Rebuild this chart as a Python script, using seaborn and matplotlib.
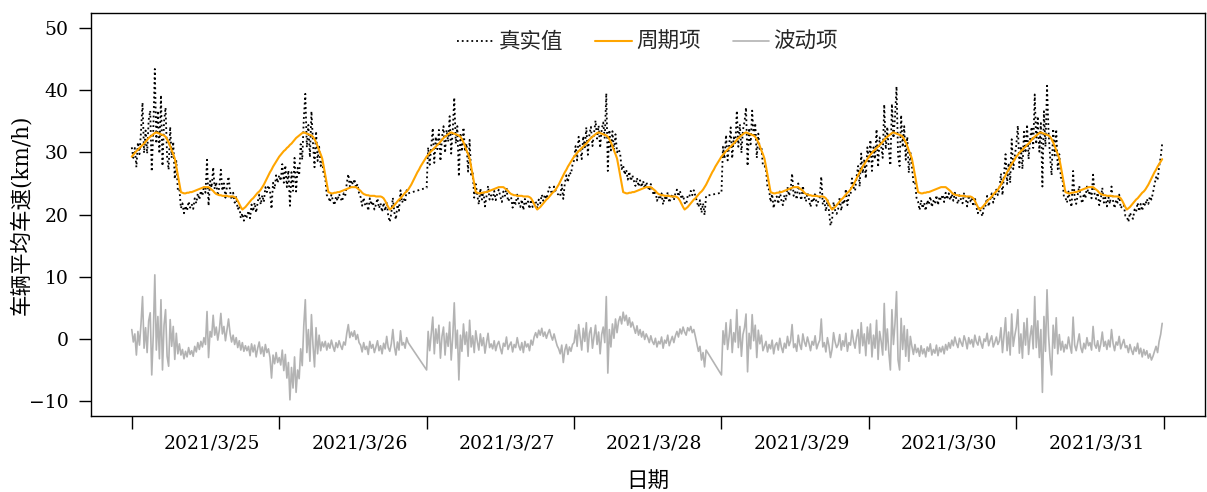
import numpy as np
import pandas as pd
import seaborn as sns
import matplotlib.pyplot as plt

# 日期标签 (每天一个)
days = ["2021/3/25", "2021/3/26", "2021/3/27", "2021/3/28",
        "2021/3/29", "2021/3/30", "2021/3/31"]

# 周期项: 一天内每 15 分钟的数值 (每行 3 小时)
periodic_profile = [
    29.3, 29.6, 29.9, 30.2, 30.4, 30.7, 30.9, 31.2, 31.4, 31.7, 32.0, 32.3,
    32.5, 32.7, 32.9, 33.1, 33.2, 33.1, 33.0, 32.9, 32.8, 32.7, 32.5, 32.1,
    31.6, 31.0, 30.3, 29.7, 29.0, 27.7, 26.3, 24.9, 23.6, 23.5, 23.4, 23.4,
    23.5, 23.5, 23.6, 23.6, 23.7, 23.8, 23.9, 24.0, 24.1, 24.2, 24.3, 24.4,
    24.4, 24.4, 24.4, 24.2, 24.0, 23.8, 23.5, 23.3, 23.2, 23.1, 23.1, 23.0,
    23.0, 23.0, 23.0, 22.9, 22.9, 22.9, 22.9, 22.8, 22.6, 22.2, 21.7, 21.2,
    20.8, 21.0, 21.2, 21.5, 21.8, 22.1, 22.4, 22.6, 22.9, 23.2, 23.5, 23.7,
    24.0, 24.4, 24.8, 25.3, 25.8, 26.3, 26.8, 27.2, 27.7, 28.1, 28.5, 28.9,
]

# 波动项: 每天每 15 分钟 (None = 缺测)
wave_0325 = [
    1.5, -0.5, 0.8, -2.6, 1.2, -1.0, 2.4, 6.8, -1.5, 1.8, -2.2, 2.9,
    4.2, -5.8, 0.6, 10.3, -1.8, 3.6, -3.2, 6.3, -5.0, 2.2, 4.7, -2.8,
    -4.4, 3.1, -1.2, 2.0, -3.3, 0.9, -2.4, -0.8, -2.6, -1.7, -3.2, -2.0,
    -2.9, -1.4, -2.5, -1.9, -2.8, -1.2, -2.1, -0.6, -1.7, -0.4, -1.3, 0.2,
    -0.9, 4.4, -3.0, 1.2, 0.3, 3.8, 0.6, 1.9, -0.2, 1.4, 4.1, 0.8,
    2.0, -0.3, 1.5, 3.2, 0.9, -0.5, 0.6, -0.9, 0.2, -1.4, -0.3, -1.8,
    -0.6, -2.0, -1.1, -1.9, -1.2, -2.7, -0.8, -2.1, -1.0, -2.9, -1.5, -0.5,
    -2.4, -1.3, -2.8, -0.9, -2.2, -1.6, -3.0, -6.3, -2.6, -4.0, -2.2, -3.8,
]
wave_0326 = [
    -3.0, -4.2, -1.8, -5.1, -2.5, -6.3, -3.8, -9.8, -4.6, -7.9, -2.9, -8.6,
    -5.0, -6.4, -1.6, -4.3, 2.1, 6.3, -2.2, 1.5, -3.6, 3.9, -1.0, -4.5,
    1.8, -2.4, 0.6, -1.9, -0.5, -1.3, -0.4, -1.8, -0.7, -1.5, -0.2, -1.2,
    -2.0, -0.6, -1.4, -0.3, -1.1, -1.7, -0.5, -1.0, 0.9, 2.3, 0.2, 1.1,
    0.4, 1.3, -0.1, 0.7, -0.6, -1.0, -2.1, -0.6, -1.7, -1.2, -2.5, -0.4,
    -1.5, -0.9, -2.2, -1.3, -0.3, -1.9, -1.1, -2.4, -0.7, -1.6, 0.4, -1.4,
    -2.0, -0.8, 1.5, -1.2, -2.6, -0.5, -1.8, 1.3, -1.0, -0.6, -1.5, 0.2,
    -0.6, None, None, None, None, None, None, None, None, None, None, None,
]
wave_0327 = [
    -5.0, 1.2, -1.9, 0.8, 3.5, -2.4, 1.6, -0.7, 2.2, -3.1, 0.4, 1.9,
    -2.6, 0.9, -1.2, 2.7, -3.4, 0.3, 5.8, -1.5, 1.4, -6.6, 0.6, -2.0,
    2.4, -0.9, 1.1, -2.8, 3.0, -1.3, 0.5, -2.2, 1.3, -0.4, -1.8, 0.8,
    -1.1, 0.2, -2.3, -0.6, 0.9, -1.4, -0.8, -1.6, -0.3, -1.9, -0.9, -0.4,
    -1.5, -2.4, -0.7, -1.2, 0.3, -1.7, -1.0, -0.5, -2.1, -0.9, -1.4, 0.2,
    -1.1, -1.8, -0.6, -2.2, -0.4, -1.3, -0.8, -1.9, -0.2, -1.0, 0.3, 1.0,
    0.2, 1.4, 0.6, 1.7, 0.4, 1.1, 0.1, 0.9, 1.5, 0.5, -0.2, 0.8,
    -0.2, -1.1, -1.6, -2.4, -1.0, -3.8, -1.8, -0.9, -2.5, -1.3, -2.0, -0.9,
]
wave_0328 = [
    -0.6, 1.4, -1.2, 2.3, 0.2, -1.8, 1.7, -0.4, 2.6, -2.1, 0.9, 1.8,
    -1.5, 0.3, 2.2, -0.9, 1.1, -2.4, 0.7, 1.9, -0.6, 6.8, -5.5, 1.5,
    -1.3, 2.4, 0.1, 3.2, 1.0, 2.8, 3.6, 2.4, 4.3, 2.9, 3.8, 2.2,
    3.4, 1.9, 2.7, 1.8, 0.9, 2.1, 0.6, 1.5, 0.3, 1.2, -0.1, 0.8,
    0.2, -0.6, 0.5, -0.4, -0.9, 0.1, -1.3, -0.4, -0.8, 0.3, -1.5, -0.2,
    -0.7, 0.6, -1.1, -0.3, 0.4, -0.6, 0.5, 1.2, 0.3, 1.6, 0.8, 1.9,
    1.1, 0.6, 1.8, 1.3, 2.0, 1.0, 1.5, 0.4, -0.8, -2.0, -1.2, -3.4,
    -2.2, -4.5, -1.8, None, None, None, None, None, None, None, None, None,
]
wave_0329 = [
    -5.8, 1.3, -0.9, 2.6, -1.7, 0.4, 3.1, -2.2, 1.0, -0.5, 4.7, -1.4,
    2.0, -2.8, 0.7, 1.8, 4.0, -5.3, 0.9, -1.6, 3.9, -0.3, 2.2, -3.0,
    1.4, -0.8, 0.6, -1.9, -1.2, -0.4, -2.1, -0.9, -1.6, -0.2, -2.4, -1.0,
    -0.6, -1.8, 0.1, -1.3, -2.2, -0.7, -1.5, 0.4, -1.1, -0.3, 2.3, -1.4,
    -0.8, -2.0, 0.6, -0.9, -1.7, 0.8, -0.5, -1.2, 0.3, -0.7, -1.9, -0.4,
    -1.0, 0.5, -1.6, -0.8, -0.2, 3.2, -1.3, -0.6, -2.1, 0.2, -1.1, -3.0,
    -1.7, 1.0, -0.5, -1.4, -0.9, 0.7, -1.8, -0.3, -1.2, 0.9, -2.0, -0.6,
    -1.0, 1.4, -0.4, -1.5, 0.3, 1.5, -2.3, 2.6, -1.1, 0.8, -2.7, 1.9,
]
wave_0330 = [
    -0.8, 2.4, -2.9, 0.6, -1.5, 3.0, -3.3, 1.2, -0.4, -2.6, 5.7, -1.8,
    1.6, -2.2, -5.0, 4.7, -0.9, 2.5, 7.6, -3.4, -5.0, 3.3, -1.7, 2.1,
    -2.8, 1.5, -3.6, 0.4, -1.2, -2.5, -0.9, -2.2, -1.5, -2.8, -1.1, -2.4,
    -1.6, -2.9, -1.3, -2.0, -0.8, -2.6, -1.7, -2.3, -1.0, -2.7, -1.4, -2.1,
    -1.2, -2.4, -0.9, -1.8, -0.6, -1.5, -0.2, -1.1, 0.3, -0.7, -1.4, 0.1,
    -0.6, -1.2, 0.5, -0.3, -1.6, 0.2, -0.8, -0.1, -1.3, 0.6, -0.5, -1.0,
    0.4, -0.7, -1.5, 0.0, -0.4, 0.9, -1.1, -0.2, 0.5, -1.3, -0.6, 0.3,
    -0.9, -0.3, 1.8, -2.2, 0.6, 3.4, -1.9, 1.1, -2.6, 4.0, -1.2, 0.5,
]
wave_0331 = [
    1.9, 4.7, -2.3, 0.8, -3.1, 2.6, -1.0, 3.3, -2.5, 0.4, 2.1, -1.6,
    6.8, -1.4, 2.9, -3.0, 1.5, -8.6, 3.6, -2.0, 7.9, 0.6, -3.2, -5.8,
    2.2, -1.5, 3.4, -2.4, 0.7, -1.8, -0.4, -2.1, -0.9, -1.6, 0.3, -1.2,
    -2.3, 3.5, -1.0, -1.9, -0.5, 0.8, -1.4, -2.2, -0.7, -1.6, 0.2, -1.1,
    -0.6, -1.8, 2.0, -0.9, -1.5, -0.3, -2.0, -0.8, 1.1, -1.2, -0.4, -1.7,
    -0.2, -1.3, 1.5, -0.7, -1.9, -0.5, -1.0, 0.4, -1.6, -0.8, -0.1, -1.4,
    -1.1, -2.2, -0.9, -1.8, -2.5, -1.3, -2.0, -0.7, -2.4, -1.5, -2.9, -1.7,
    -2.6, -1.9, -3.1, -2.4, -3.4, -2.8, -2.0, -1.2, -2.2, -0.4, 0.7, 2.5,
]


def build_frame():
    waves = [wave_0325, wave_0326, wave_0327, wave_0328,
             wave_0329, wave_0330, wave_0331]
    n = len(periodic_profile)
    rows = []
    for d, w in enumerate(waves):
        for i, v in enumerate(w):
            rows.append((d + i / n, periodic_profile[i], v))
    df = pd.DataFrame(rows, columns=["t", "periodic", "wave"])
    df["wave"] = df["wave"].astype(float)
    # 真实值 = 周期项 + 波动项
    df["real"] = df["periodic"] + df["wave"]
    return df


def main():
    sns.set_theme(style="ticks")
    plt.rcParams["font.family"] = ["DejaVu Serif", "Noto Sans CJK SC"]
    plt.rcParams["axes.unicode_minus"] = True

    df = build_frame()
    obs = df.dropna(subset=["wave"])

    fig = plt.figure(figsize=(12.07, 4.92), dpi=100)
    ax = fig.add_axes([90.5 / 1207, 1 - 416 / 492,
                       (1205 - 90.5) / 1207, (416 - 13) / 492])

    sns.lineplot(data=obs, x="t", y="real", ax=ax, color="black",
                 linestyle=":", linewidth=1.3, label="真实值",
                 estimator=None, errorbar=None)
    sns.lineplot(data=df, x="t", y="periodic", ax=ax, color="#FFA500",
                 linewidth=1.5, label="周期项", estimator=None, errorbar=None)
    sns.lineplot(data=obs, x="t", y="wave", ax=ax, color="#B3B3B3",
                 linewidth=1.2, label="波动项", estimator=None, errorbar=None)

    ax.set_xlim(-0.28, 7.28)
    ax.set_ylim(-12.4, 52.4)

    # 刻度: 日界处画刻度线, 日期标签放在每天中间
    ax.set_xticks(range(len(days) + 1))
    ax.set_xticklabels([])
    ax.set_xticks([d + 0.545 for d in range(len(days))], minor=True)
    ax.set_xticklabels(days, minor=True)
    ax.set_yticks(range(-10, 51, 10))

    ax.tick_params(axis="both", which="major", direction="out", length=9,
                   width=1, color="black", labelsize=13.5, labelcolor="black")
    ax.tick_params(axis="y", pad=7)
    ax.tick_params(axis="x", which="minor", length=0, pad=13,
                   labelsize=13.5, labelcolor="black")

    for s in ax.spines.values():
        s.set_visible(True)
        s.set_color("black")
        s.set_linewidth(1.0)

    ax.set_xlabel("日期", fontsize=15.5, color="black")
    ax.set_ylabel("车辆平均车速(km/h)", fontsize=15.5, color="black")
    ax.xaxis.set_label_coords(0.5, -0.135)
    ax.yaxis.set_label_coords(-0.052, 0.5)

    ax.legend(loc="upper center", bbox_to_anchor=(0.5, 1.003), ncol=3,
              frameon=False, fontsize=15.5, handlelength=1.7,
              handletextpad=0.2, columnspacing=1.5)

    fig.savefig("out.png", dpi=100)


if __name__ == "__main__":
    main()
